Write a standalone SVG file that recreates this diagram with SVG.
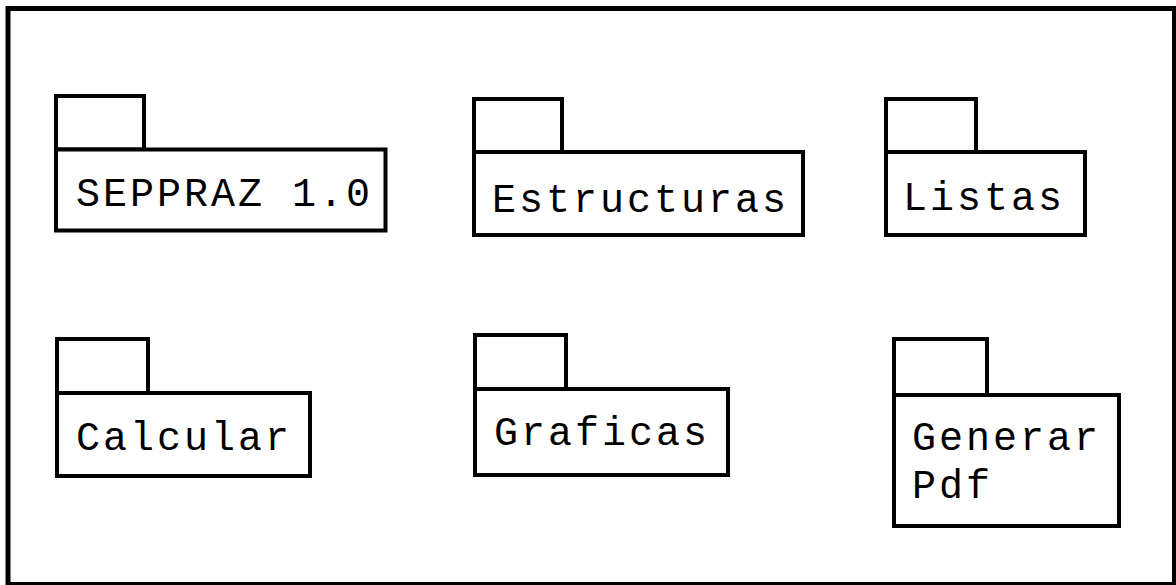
<svg xmlns="http://www.w3.org/2000/svg" width="1176" height="585" viewBox="0 0 1176 585">
<style>
.frame{fill:none;stroke:#000;stroke-width:5}
.tab,.body{fill:#fff;stroke:#000;stroke-width:4}
.lbl{font-family:"Liberation Mono","Courier New",monospace;font-size:40px;letter-spacing:3px;fill:#000}
</style>
<rect width="1176" height="585" fill="#fff"/>
<rect class="frame" x="8" y="8.5" width="1166.5" height="576"/>
<g id="connectors"></g>
<g id="seppraz">
<rect class="tab" x="56" y="96" width="88" height="53.5"/>
<rect class="body" x="56" y="149.5" width="329.5" height="81"/>
<text class="lbl" x="76" y="206">SEPPRAZ 1.0</text>
</g>
<g id="estructuras">
<rect class="tab" x="474" y="99" width="88" height="53"/>
<rect class="body" x="474" y="152" width="329" height="83"/>
<text class="lbl" x="492" y="212">Estructuras</text>
</g>
<g id="listas">
<rect class="tab" x="886" y="99" width="90" height="53"/>
<rect class="body" x="886" y="152" width="199" height="83"/>
<text class="lbl" x="903" y="210">Listas</text>
</g>
<g id="calcular">
<rect class="tab" x="57" y="339" width="91" height="54"/>
<rect class="body" x="57" y="393" width="253" height="83"/>
<text class="lbl" x="76" y="450">Calcular</text>
</g>
<g id="graficas">
<rect class="tab" x="475" y="335" width="91" height="54"/>
<rect class="body" x="475" y="389" width="253" height="86"/>
<text class="lbl" x="494" y="445">Graficas</text>
</g>
<g id="generarpdf">
<rect class="tab" x="894" y="339" width="93" height="56"/>
<rect class="body" x="894" y="395" width="225" height="131"/>
<text class="lbl" x="912" y="450">Generar</text>
<text class="lbl" x="912" y="498">Pdf</text>
</g>
</svg>
